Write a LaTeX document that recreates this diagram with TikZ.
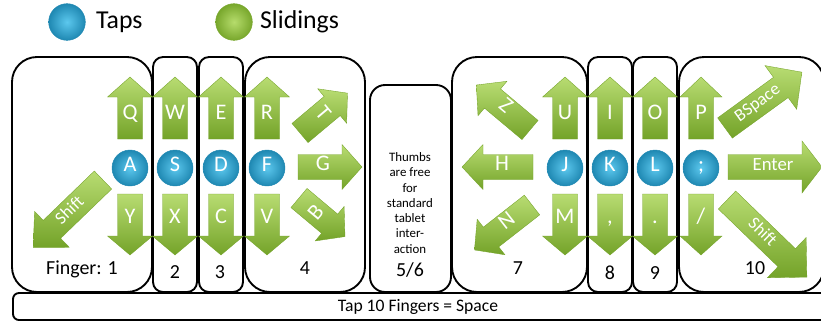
\documentclass[tikz,border=0pt]{standalone}
\usepackage{fontspec}
\setmainfont{Carlito}

\definecolor{tapblue}{HTML}{3AAED8}
\definecolor{tapinner}{HTML}{5CC8EE}
\definecolor{tapouter}{HTML}{1F88B2}
\definecolor{slideinner}{HTML}{B6DC6C}
\definecolor{slideouter}{HTML}{78A72C}
\definecolor{slidelight}{HTML}{B8DC72}
\definecolor{slidedark}{HTML}{74A329}

\newcommand{\keysmall}{\fontsize{15}{15}\selectfont}

\tikzset{
  fingerbox/.style={draw=black, line width=1.6pt},
  tapball/.style={circle, inner color=tapinner, outer color=tapouter, draw=tapouter, line width=0.4pt,
    minimum size=1.08cm, inner sep=0pt,
    text=white, text height=0.64em, text depth=0pt, font=\fontsize{19}{19}\selectfont},
  slideball/.style={circle, inner color=slideinner, outer color=slideouter, draw=slideouter, line width=0.4pt,
    minimum size=1.1cm, inner sep=0pt},
  keytext/.style={text=white, inner sep=0pt, text height=0.64em, text depth=0pt,
    font=\fontsize{19}{19}\selectfont},
  fingernum/.style={font=\fontsize{17}{17}\selectfont},
  legendtext/.style={anchor=west, font=\fontsize{22}{24}\selectfont},
  % length, head half width, head length, label, label angle, label position
  pics/slide/.style n args={6}{code={
    \shade[top color=slidelight, bottom color=slidedark, draw=slidedark, line width=0.3pt]
      (0,-12.5) -- ({#1-#3},-12.5) -- ({#1-#3},-#2) -- (#1,0) -- ({#1-#3},#2) -- ({#1-#3},12.5) -- (0,12.5) -- cycle;
    \node[keytext, rotate=#5] (-lbl) at (#6,0) {#4};
  }}
}

\begin{document}
\begin{tikzpicture}[x=0.03cm, y=-0.03cm]
    \useasboundingbox (0,0) rectangle (821,322);
    \clip (0,0) rectangle (821,322);

    % legend
    \node[tapball, minimum size=1.1cm] (legtap) at (67,22) {};
    \node[legendtext] (legtaptext) at (92,22) {Taps};
    \node[slideball] (legslide) at (234,22) {};
    \node[legendtext] (legslidetext) at (256,22) {Slidings};

    % finger boxes
    \draw[fingerbox, rounded corners=0.75cm] (12,57) rectangle (152,292);
    \draw[fingerbox, rounded corners=0.3cm] (153,57) rectangle (197,292);
    \draw[fingerbox, rounded corners=0.3cm] (199,57) rectangle (243,292);
    \draw[fingerbox, rounded corners=0.75cm] (245,57) rectangle (365,292);
    \draw[fingerbox, rounded corners=0.45cm] (370,85) rectangle (451,292);
    \draw[fingerbox, rounded corners=0.75cm] (452,57) rectangle (587,292);
    \draw[fingerbox, rounded corners=0.3cm] (588,57) rectangle (632,292);
    \draw[fingerbox, rounded corners=0.3cm] (633,57) rectangle (677,292);
    \draw[fingerbox, rounded corners=0.75cm] (679,57) rectangle (824,292);
    \draw[fingerbox, rounded corners=0.18cm] (13,293) rectangle (840,320);

    % up and down slidings
    \foreach \x/\up/\dn in {130/Q/Y,175/W/X,221/E/C,267/R/V,565/U/M}{
        \pic[rotate=90] (up\up) at (\x,139) {slide={62}{22.5}{20}{\up}{0}{23}};
        \pic[rotate=-90] (dn\dn) at (\x,194) {slide={61}{22.5}{19}{\dn}{0}{26}};
    }
    \pic[rotate=90] (upI) at (610,139) {slide={62}{22.5}{20}{I}{0}{23}};
    \pic[rotate=90] (upO) at (655,139) {slide={62}{22.5}{20}{O}{0}{23}};
    \pic[rotate=90] (upP) at (701,139) {slide={62}{21}{20}{P}{0}{23}};
    \pic[rotate=-90] (dncomma) at (610,194) {slide={61}{22.5}{19}{,}{0}{26}};
    \pic[rotate=-90] (dndot) at (655,194) {slide={61}{22.5}{19}{.}{0}{26}};
    \pic[rotate=-90] (dnslash) at (701,194) {slide={61}{21}{19}{/}{0}{26}};

    % side slidings
    \pic[rotate=224] (shiftl) at (103,180) {slide={97}{25}{26}{\keysmall Shift}{44}{45}};
    \pic[rotate=40] (upT) at (300,133) {slide={62}{22.5}{20}{T}{-50}{27}};
    \pic (rightG) at (298,167) {slide={64}{22.5}{20}{G}{0}{25}};
    \pic[rotate=-40] (dnB) at (299,198) {slide={60}{22.5}{20}{B}{50}{25}};
    \pic[rotate=140] (upZ) at (530,130) {slide={70}{22.5}{21}{Z}{-40}{34}};
    \pic[rotate=180] (leftH) at (533,167) {slide={71}{22.5}{21}{H}{0}{31}};
    \pic[rotate=218] (dnN) at (532,205) {slide={73}{22.5}{21}{N}{38}{30}};
    \pic[rotate=36] (bspace) at (725,128) {slide={95}{27}{26}{\keysmall BSpace}{36}{41}};
    \pic (enter) at (728,167) {slide={94}{26}{20}{\fontsize{16}{16}\selectfont Enter}{0}{45}};
    \pic[rotate=-44] (shiftr) at (727,200) {slide={111}{28}{28}{\keysmall Shift}{-44}{48}};

    % taps
    \foreach \x/\k in {130/A,175/S,221/D,267/F,565/J,610/K,655/L}
        \node[tapball] (tap\k) at (\x,168) {\k};
    \node[tapball] (tapsemi) at (701,168) {;};

    % finger numbers
    \node[fingernum] (f1) at (82,269) {Finger: 1};
    \node[fingernum] (f2) at (175,272) {2};
    \node[fingernum] (f3) at (220,272) {3};
    \node[fingernum] (f4) at (305,268) {4};
    \node[fingernum] (f56) at (410,270) {5/6};
    \node[fingernum] (f7) at (518,268) {7};
    \node[fingernum] (f8) at (610,273) {8};
    \node[fingernum] (f9) at (655,273) {9};
    \node[fingernum] (f10) at (755,268) {10};

    \node[font=\fontsize{11}{13}\selectfont, align=center] (thumbs) at (410,203)
        {Thumbs\\are free\\for\\standard\\tablet\\inter-\\action};
    \node[font=\fontsize{15}{15}\selectfont] (space) at (418,307) {Tap 10 Fingers = Space};
\end{tikzpicture}
\end{document}
